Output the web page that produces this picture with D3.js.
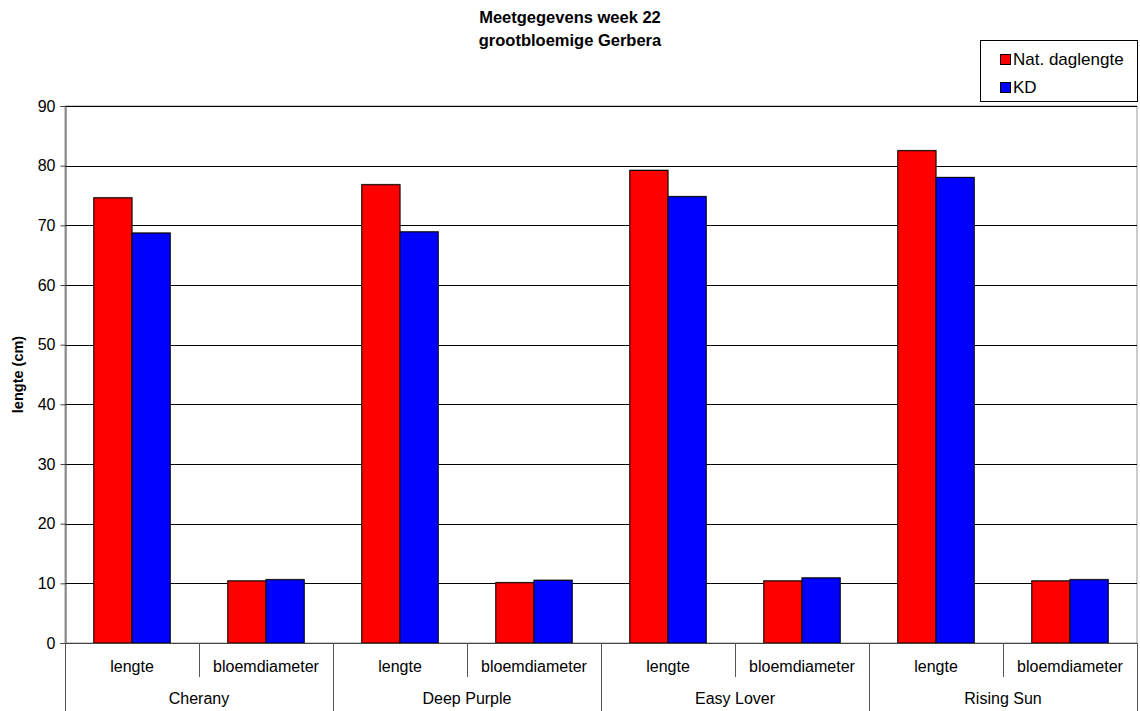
<!DOCTYPE html>
<html>
<head>
<meta charset="utf-8">
<script src="https://cdn.jsdelivr.net/npm/d3@7"></script>
<style>
  html, body { margin: 0; padding: 0; background: #fff; }
  svg { display: block; font-family: "Liberation Sans", Arial, sans-serif; }
</style>
</head>
<body>
<svg id="chart" width="1140" height="711"></svg>
<script>
// Cultivars and the two measured traits per cultivar
const cultivars = ["Cherany", "Deep Purple", "Easy Lover", "Rising Sun"];
const traits = ["lengte", "bloemdiameter"];
const seriesNames = ["Nat. daglengte", "KD"];
const seriesColors = ["#ff0000", "#0000ff"];

// Values per cultivar/trait, in order: Cherany lengte, Cherany bloemdiameter, ...
const natDaglengte = [74.6, 10.4, 76.8, 10.1, 79.2, 10.4, 82.5, 10.4];
const kd = [68.7, 10.6, 68.9, 10.5, 74.8, 10.9, 78.0, 10.6];
const yTicks = [0, 10, 20, 30, 40, 50, 60, 70, 80, 90];

const categories = [];
cultivars.forEach(c => traits.forEach(t => categories.push({ cultivar: c, trait: t, key: c + "|" + t })));
categories.forEach((d, i) => { d.values = [natDaglengte[i], kd[i]]; });

const svg = d3.select("#chart");
const m = { left: 65, right: 1137, top: 106, bottom: 643 };
const labelSize = 16;

const x = d3.scaleBand()
  .domain(categories.map(d => d.key))
  .range([m.left, m.right])
  .paddingInner(0.43)
  .paddingOuter(0.215);
const xs = d3.scaleBand().domain(seriesNames).range([0, x.bandwidth()]);
const y = d3.scaleLinear().domain([0, 90]).range([m.bottom, m.top]);
const step = x.step();

// Plot-area frame
svg.append("rect")
  .attr("x", m.left).attr("y", m.top)
  .attr("width", m.right - m.left).attr("height", m.bottom - m.top)
  .attr("fill", "none").attr("stroke", "#999").attr("stroke-width", 1);

// Horizontal gridlines
svg.append("g").selectAll("line")
  .data(yTicks.filter(t => t > 0))
  .join("line")
  .attr("x1", m.left).attr("x2", m.right)
  .attr("y1", d => Math.round(y(d)) + 0.5).attr("y2", d => Math.round(y(d)) + 0.5)
  .attr("stroke", "#000").attr("stroke-width", 1);

// Y axis
const yAxis = svg.append("g")
  .attr("transform", `translate(${m.left + 0.5},0)`)
  .call(d3.axisLeft(y).tickValues(yTicks).tickSize(5).tickPadding(5).tickFormat(d3.format("d")));
yAxis.select(".domain").attr("stroke", "#444");
yAxis.selectAll(".tick line").attr("stroke", "#444");
yAxis.selectAll(".tick text").attr("font-size", labelSize).attr("fill", "#000")
  .attr("font-family", "'Liberation Sans', Arial, sans-serif");

// Bars
const groups = svg.append("g").selectAll("g")
  .data(categories)
  .join("g")
  .attr("transform", d => `translate(${x(d.key)},0)`);

// soft gray shadow behind each bar
groups.selectAll("rect.shadow")
  .data(d => d.values.map((v, i) => ({ v, s: seriesNames[i], i })))
  .join("rect")
  .attr("class", "shadow")
  .attr("x", d => xs(d.s) - 0.5)
  .attr("y", d => y(d.v) - 1)
  .attr("width", xs.bandwidth() + 1)
  .attr("height", d => y(0) - y(d.v) + 1)
  .attr("fill", "#999");

groups.selectAll("rect.bar")
  .data(d => d.values.map((v, i) => ({ v, s: seriesNames[i], i })))
  .join("rect")
  .attr("class", "bar")
  .attr("x", d => xs(d.s))
  .attr("y", d => y(d.v))
  .attr("width", xs.bandwidth())
  .attr("height", d => y(0) - y(d.v))
  .attr("fill", d => seriesColors[d.i])
  .attr("stroke", "#000").attr("stroke-width", 1);

// Baseline
svg.append("line")
  .attr("x1", m.left).attr("x2", m.right)
  .attr("y1", m.bottom + 0.5).attr("y2", m.bottom + 0.5)
  .attr("stroke", "#444");

// Two-level category axis: dividers and labels
const dividers = d3.range(categories.length + 1);
svg.append("g").selectAll("line")
  .data(dividers)
  .join("line")
  .attr("x1", i => Math.round(m.left + i * step) + 0.5)
  .attr("x2", i => Math.round(m.left + i * step) + 0.5)
  .attr("y1", m.bottom)
  .attr("y2", i => (i % traits.length === 0) ? 711 : 677)
  .attr("stroke", "#555").attr("stroke-width", 1);

svg.append("g").selectAll("text")
  .data(categories)
  .join("text")
  .attr("x", d => x(d.key) + x.bandwidth() / 2)
  .attr("y", 672)
  .attr("text-anchor", "middle")
  .attr("font-size", labelSize)
  .text(d => d.trait);

svg.append("g").selectAll("text")
  .data(cultivars)
  .join("text")
  .attr("x", (d, i) => m.left + (i + 0.5) * traits.length * step)
  .attr("y", 704)
  .attr("text-anchor", "middle")
  .attr("font-size", labelSize)
  .text(d => d);

// Y axis title
svg.append("text")
  .attr("transform", `translate(23,${(m.top + m.bottom) / 2}) rotate(-90)`)
  .attr("text-anchor", "middle")
  .attr("font-size", 14.5).attr("font-weight", "bold")
  .text("lengte (cm)");

// Chart title
const title = svg.append("text")
  .attr("x", 570).attr("text-anchor", "middle")
  .attr("font-size", 16.5).attr("font-weight", "bold");
title.append("tspan").attr("x", 570).attr("y", 23).text("Meetgegevens week 22");
title.append("tspan").attr("x", 570).attr("y", 46).text("grootbloemige Gerbera");

// Legend
const legend = svg.append("g");
legend.append("rect")
  .attr("x", 980.5).attr("y", 40.5).attr("width", 157).attr("height", 61)
  .attr("fill", "#fff").attr("stroke", "#000");
const li = legend.selectAll("g.item")
  .data(seriesNames)
  .join("g")
  .attr("class", "item")
  .attr("transform", (d, i) => `translate(1000,${54 + i * 28})`);
li.append("rect")
  .attr("x", 0.5).attr("y", 0.5).attr("width", 10).attr("height", 10)
  .attr("fill", (d, i) => seriesColors[i]).attr("stroke", "#000");
li.append("text")
  .attr("x", 13).attr("y", 11)
  .attr("font-size", 17)
  .text(d => d);
</script>
</body>
</html>
